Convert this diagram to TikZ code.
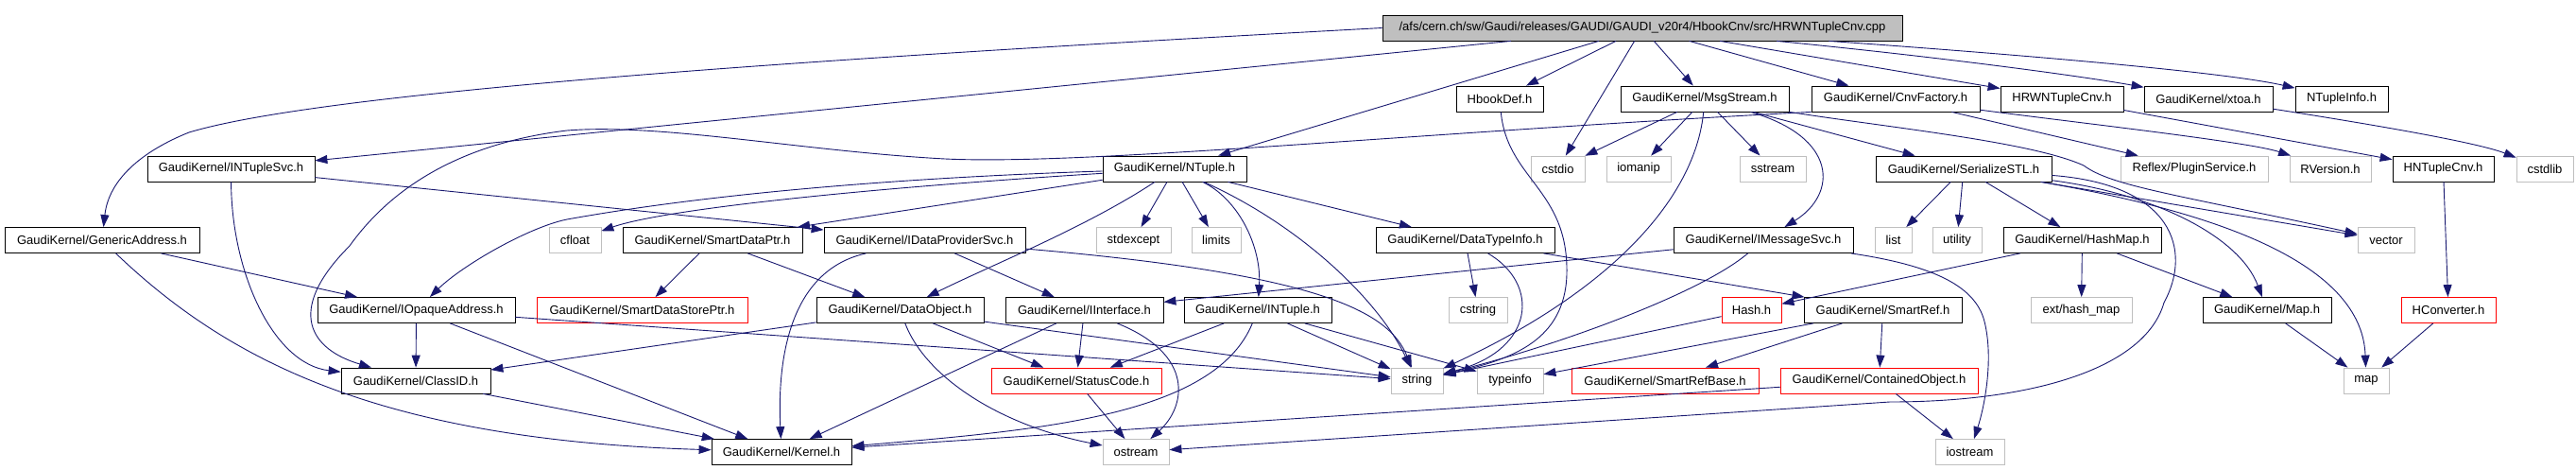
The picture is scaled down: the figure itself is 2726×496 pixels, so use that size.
\documentclass[tikz,border=0pt]{standalone}
\usepackage{fontspec}
\setmainfont{Liberation Sans}
\usepackage{tikz}
\definecolor{midnight}{RGB}{25,25,112}
\definecolor{boxgray}{RGB}{191,191,191}
\usetikzlibrary{arrows.meta}

\begin{document}
\begin{tikzpicture}[x=1pt, y=-1pt,
		>={Triangle[length=13pt,width=9pt]},   %Pfeilspitzen
		font=\fontsize{13}{16}\selectfont,
		box/.style={draw=black, line width=0.8pt, minimum height=27pt, inner sep=0pt},
		sys/.style={box, draw=boxgray},
		trunc/.style={box, draw=red},
		rootbox/.style={box, fill=boxgray},
		dep/.style={->, color=midnight, line width=0.9pt}]
		%Bildbereich
		\fill[white] (0,0) rectangle (2726,496);
		\useasboundingbox (0,0) rectangle (2726,496);
		% Knoten: Zeile 0
		\node[rootbox, minimum width=550pt] (root) at (1738,29.5) {/afs/cern.ch/sw/Gaudi/releases/GAUDI/GAUDI\_v20r4/HbookCnv/src/HRWNTupleCnv.cpp};
		% Zeile 1
		\node[box, minimum width=92pt] (hbookdef) at (1587,104.5) {HbookDef.h};
		\node[box, minimum width=178pt] (msgstream) at (1804,104.5) {GaudiKernel/MsgStream.h};
		\node[box, minimum width=178pt] (cnvfactory) at (2006,104.5) {GaudiKernel/CnvFactory.h};
		\node[box, minimum width=130pt] (hrwcnv) at (2182,104.5) {HRWNTupleCnv.h};
		\node[box, minimum width=136pt] (xtoa) at (2337,104.5) {GaudiKernel/xtoa.h};
		\node[box, minimum width=98pt] (ntupleinfo) at (2478,104.5) {NTupleInfo.h};
		% Zeile 2
		\node[box, minimum width=177pt] (intuplesvc) at (244.5,178.5) {GaudiKernel/INTupleSvc.h};
		\node[box, minimum width=152pt] (ntuple) at (1243,178.5) {GaudiKernel/NTuple.h};
		\node[sys, minimum width=57pt] (cstdio) at (1648.5,178.5) {cstdio};
		\node[sys, minimum width=68pt] (iomanip) at (1734,178.5) {iomanip};
		\node[sys, minimum width=70pt] (sstream) at (1876,178.5) {sstream};
		\node[box, minimum width=186pt] (serialize) at (2078,178.5) {GaudiKernel/SerializeSTL.h};
		\node[sys, minimum width=156pt] (reflex) at (2322,178.5) {Reflex/PluginService.h};
		\node[sys, minimum width=86pt] (rversion) at (2466,178.5) {RVersion.h};
		\node[box, minimum width=107pt] (hntuplecnv) at (2585.5,178.5) {HNTupleCnv.h};
		\node[sys, minimum width=60pt] (cstdlib) at (2693,178.5) {cstdlib};
		% Zeile 3
		\node[box, minimum width=206pt] (genaddr) at (108,254) {GaudiKernel/GenericAddress.h};
		\node[sys, minimum width=55pt] (cfloat) at (608.5,254) {cfloat};
		\node[box, minimum width=190pt] (smartptr) at (754,254) {GaudiKernel/SmartDataPtr.h};
		\node[box, minimum width=213pt] (dataprov) at (978.5,254) {GaudiKernel/IDataProviderSvc.h};
		\node[sys, minimum width=79pt] (stdexcept) at (1199.5,254) {stdexcept};
		\node[sys, minimum width=52pt] (limits) at (1287,254) {limits};
		\node[box, minimum width=189pt] (datatype) at (1550.5,254) {GaudiKernel/DataTypeInfo.h};
		\node[box, minimum width=190pt] (imsgsvc) at (1866,254) {GaudiKernel/IMessageSvc.h};
		\node[sys, minimum width=39pt] (list) at (2003.5,254) {list};
		\node[sys, minimum width=52pt] (utility) at (2071,254) {utility};
		\node[box, minimum width=167pt] (hashmap) at (2203.5,254) {GaudiKernel/HashMap.h};
		\node[sys, minimum width=60pt] (vector) at (2525,254) {vector};
		% Zeile 4
		\node[box, minimum width=209pt] (iopaque) at (440.5,328) {GaudiKernel/IOpaqueAddress.h};
		\node[trunc, minimum width=223pt] (smartstore) at (679.5,328) {GaudiKernel/SmartDataStorePtr.h};
		\node[box, minimum width=177pt] (dataobject) at (952.5,328) {GaudiKernel/DataObject.h};
		\node[box, minimum width=167pt] (iinterface) at (1147.5,328) {GaudiKernel/IInterface.h};
		\node[box, minimum width=156pt] (intuple) at (1331,328) {GaudiKernel/INTuple.h};
		\node[sys, minimum width=62pt] (cstring) at (1564,328) {cstring};
		\node[trunc, minimum width=63pt] (hash) at (1853.5,328) {Hash.h};
		\node[box, minimum width=167pt] (smartref) at (1992.5,328) {GaudiKernel/SmartRef.h};
		\node[sys, minimum width=107pt] (exthashmap) at (2202.5,328) {ext/hash\_map};
		\node[box, minimum width=136pt] (gkmap) at (2399,328) {GaudiKernel/Map.h};
		\node[trunc, minimum width=100pt] (hconverter) at (2591,328) {HConverter.h};
		% Zeile 5
		\node[box, minimum width=158pt] (classid) at (440,402.5) {GaudiKernel/ClassID.h};
		\node[trunc, minimum width=180pt] (statuscode) at (1139,402.5) {GaudiKernel/StatusCode.h};
		\node[sys, minimum width=55pt] (string) at (1499.5,402.5) {string};
		\node[sys, minimum width=70pt] (typeinfo) at (1598,402.5) {typeinfo};
		\node[trunc, minimum width=198pt] (smartrefbase) at (1762,402.5) {GaudiKernel/SmartRefBase.h};
		\node[trunc, minimum width=209pt] (contained) at (1988.5,402.5) {GaudiKernel/ContainedObject.h};
		\node[sys, minimum width=48pt] (map) at (2504,402.5) {map};
		% Zeile 6
		\node[box, minimum width=148pt] (kernel) at (827,478) {GaudiKernel/Kernel.h};
		\node[sys, minimum width=70pt] (ostream) at (1202,478) {ostream};
		\node[sys, minimum width=73pt] (iostream) at (2084.5,478) {iostream};
		% Kanten der Quelldatei
		\draw[dep] (root.west) .. controls (900,60) and (350,95) .. (200,140) .. controls (150,160) and (115,190) .. (genaddr);
		\draw[dep] (root) -- (intuplesvc);
		\draw[dep] (root) -- (ntuple);
		\draw[dep] (root) -- (hbookdef);
		\draw[dep] (root) -- (cstdio);
		\draw[dep] (root) -- (msgstream);
		\draw[dep] (root) -- (cnvfactory);
		\draw[dep] (root) -- (hrwcnv);
		\draw[dep] (root) .. controls (2050,60) and (2200,80) .. (xtoa);
		\draw[dep] (root) .. controls (2100,55) and (2350,75) .. (ntupleinfo);
		% Kanten aus Zeile 1
		\draw[dep] (hbookdef) .. controls (1595,190) and (1660,200) .. (1658,290) .. controls (1656,360) and (1600,380) .. (string);
		\draw[dep] (msgstream) -- (cstdio);
		\draw[dep] (msgstream) -- (iomanip);
		\draw[dep] (msgstream) -- (sstream);
		\draw[dep] (msgstream) .. controls (1795,200) and (1720,300) .. (string);
		\draw[dep] (msgstream) .. controls (1945,145) and (1945,205) .. (imsgsvc);
		\draw[dep] (msgstream) -- (serialize);
		\draw[dep] (msgstream) .. controls (2000,135) and (2150,150) .. (2205,175) .. controls (2235,197) and (2300,205) .. (vector);
		\draw[dep] (cnvfactory.south west) .. controls (1500,140) and (1150,175) .. (1000,168) .. controls (850,160) and (700,130) .. (600,138) .. controls (500,150) and (420,190) .. (370,260) .. controls (300,330) and (330,370) .. (classid);
		\draw[dep] (cnvfactory) -- (reflex);
		\draw[dep] (cnvfactory) .. controls (2200,130) and (2380,150) .. (rversion);
		\draw[dep] (hrwcnv) -- (hntuplecnv);
		\draw[dep] (xtoa) .. controls (2500,130) and (2620,150) .. (cstdlib);
		% Kanten aus Zeile 2
		\draw[dep] (intuplesvc) .. controls (245,290) and (290,385) .. (classid);
		\draw[dep] (intuplesvc) -- (dataprov);
		\draw[dep] (ntuple) .. controls (900,200) and (700,222) .. (cfloat);
		\draw[dep] (ntuple) -- (smartptr);
		\draw[dep] (ntuple) .. controls (950,188) and (750,205) .. (600,232) .. controls (560,240) and (490,280) .. (iopaque);
		\draw[dep] (ntuple) .. controls (1150,240) and (1050,280) .. (dataobject);
		\draw[dep] (ntuple) -- (stdexcept);
		\draw[dep] (ntuple) -- (limits);
		\draw[dep] (ntuple) .. controls (1310,210) and (1335,260) .. (intuple);
		\draw[dep] (ntuple) .. controls (1380,240) and (1460,320) .. (string);
		\draw[dep] (ntuple) -- (datatype);
		\draw[dep] (serialize) -- (list);
		\draw[dep] (serialize) -- (utility);
		\draw[dep] (serialize) -- (hashmap);
		\draw[dep] (serialize) -- (vector);
		\draw[dep] (serialize) .. controls (2280,205) and (2370,250) .. (gkmap);
		\draw[dep] (serialize) .. controls (2380,230) and (2500,290) .. (map);
		\draw[dep] (serialize) .. controls (2300,195) and (2320,265) .. (2290,320) .. controls (2270,390) and (2150,425) .. (2000,425) -- (ostream);
		\draw[dep] (hntuplecnv) -- (hconverter);
		% Kanten aus Zeile 3
		\draw[dep] (genaddr) -- (iopaque);
		\draw[dep] (genaddr) .. controls (240,380) and (400,465) .. (kernel);
		\draw[dep] (smartptr) -- (smartstore);
		\draw[dep] (smartptr) -- (dataobject);
		\draw[dep] (dataprov) -- (iinterface);
		\draw[dep] (dataprov) .. controls (840,285) and (822,370) .. (kernel);
		\draw[dep] (dataprov) .. controls (1400,290) and (1470,330) .. (string);
		\draw[dep] (datatype) -- (cstring);
		\draw[dep] (datatype) .. controls (1630,300) and (1625,370) .. (string);
		\draw[dep] (datatype) -- (smartref);
		\draw[dep] (imsgsvc) -- (iinterface);
		\draw[dep] (imsgsvc) .. controls (1800,310) and (1650,365) .. (string);
		\draw[dep] (imsgsvc) .. controls (2040,280) and (2090,300) .. (2100,340) .. controls (2110,380) and (2100,430) .. (iostream);
		\draw[dep] (hashmap) -- (hash);
		\draw[dep] (hashmap) -- (exthashmap);
		\draw[dep] (hashmap) -- (gkmap);
		% Kanten aus Zeile 4
		\draw[dep] (iopaque) -- (classid);
		\draw[dep] (iopaque) -- (kernel);
		\draw[dep] (iopaque) -- (string);
		\draw[dep] (dataobject) -- (classid);
		\draw[dep] (dataobject) -- (statuscode);
		\draw[dep] (dataobject) .. controls (980,400) and (1060,450) .. (ostream);
		\draw[dep] (dataobject) -- (string);
		\draw[dep] (iinterface) -- (statuscode);
		\draw[dep] (iinterface) .. controls (1265,375) and (1255,430) .. (ostream);
		\draw[dep] (iinterface) -- (kernel);
		\draw[dep] (intuple) -- (statuscode);
		\draw[dep] (intuple) .. controls (1285,440) and (1100,455) .. (kernel);
		\draw[dep] (intuple) -- (string);
		\draw[dep] (intuple) -- (typeinfo);
		\draw[dep] (hash) -- (string);
		\draw[dep] (smartref) -- (typeinfo);
		\draw[dep] (smartref) -- (smartrefbase);
		\draw[dep] (smartref) -- (contained);
		\draw[dep] (gkmap) -- (map);
		\draw[dep] (hconverter) -- (map);
		% Kanten aus Zeile 5
		\draw[dep] (classid) -- (kernel);
		\draw[dep] (statuscode) -- (ostream);
		\draw[dep] (contained) -- (iostream);
		\draw[dep] (contained) -- (kernel);
	\end{tikzpicture}
\end{document}
